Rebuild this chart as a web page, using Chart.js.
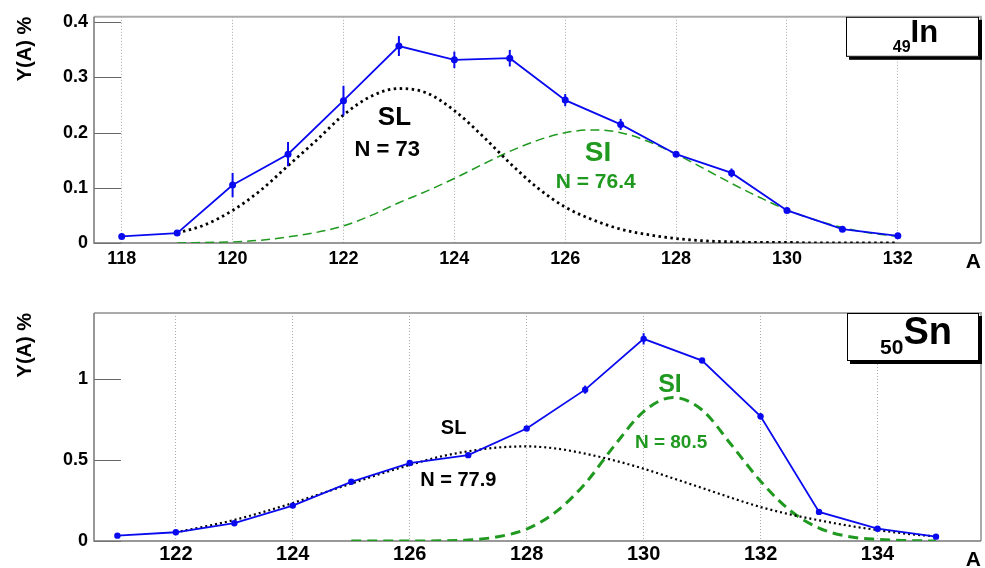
<!DOCTYPE html>
<html>
<head>
<meta charset="utf-8">
<script src="https://cdn.jsdelivr.net/npm/chart.js@4.4.0/dist/chart.umd.min.js"></script>
<style>
    html, body { margin: 0; padding: 0; background: #fff; }
    #wrap { position: relative; width: 985px; height: 568px; }
    .panel { position: absolute; left: 0; width: 985px; height: 284px; }
</style>
</head>
<body>
<div id="wrap">
    <div class="panel" style="top:0"><canvas id="in-chart" width="985" height="284"></canvas></div>
    <div class="panel" style="top:284px"><canvas id="sn-chart" width="985" height="284"></canvas></div>
</div>
<script>
// 49In 数据
const inMass = [118, 119, 120, 121, 122, 123, 124, 125, 126, 127, 128, 129, 130, 131, 132];
const inYield = [0.012, 0.018, 0.105, 0.161, 0.258, 0.357, 0.332, 0.335, 0.259, 0.215, 0.161, 0.127, 0.059, 0.025, 0.013];
const inErr = [0.002, 0.003, 0.022, 0.022, 0.027, 0.018, 0.015, 0.015, 0.011, 0.01, 0.004, 0.008, 0.003, 0.002, 0.002];
const inTicks = [118, 120, 122, 124, 126, 128, 130, 132];

const inCurveMass = [119, 119.5, 120, 120.5, 121, 121.5, 122, 122.5, 123, 123.5, 124, 124.5, 125, 125.5,
    126, 126.5, 127, 127.5, 128, 128.5, 129, 129.5, 130, 130.5, 131, 131.5, 132];
const inSL = [0.018, 0.033, 0.059, 0.095, 0.14, 0.185, 0.232, 0.266, 0.28, 0.272, 0.24, 0.195, 0.145, 0.1,
    0.065, 0.042, 0.025, 0.015, 0.008, 0.004, 0.002, 0.001, 0.001, 0, 0, 0, 0];
const inSI = [0, 0.001, 0.002, 0.005, 0.011, 0.019, 0.031, 0.05, 0.073, 0.094, 0.117, 0.142, 0.166, 0.186,
    0.2, 0.205, 0.2, 0.184, 0.161, 0.135, 0.108, 0.083, 0.06, 0.042, 0.028, 0.018, 0.012];

// 50Sn 数据
const snMass = [121, 122, 123, 124, 125, 126, 127, 128, 129, 130, 131, 132, 133, 134, 135];
const snYield = [0.033, 0.054, 0.11, 0.219, 0.366, 0.482, 0.531, 0.696, 0.936, 1.25, 1.116, 0.771, 0.18, 0.076, 0.027];
const snErr = [0.004, 0.005, 0.006, 0.008, 0.01, 0.012, 0.012, 0.015, 0.025, 0.035, 0.012, 0.02, 0.008, 0.005, 0.004];
const snTicks = [122, 124, 126, 128, 130, 132, 134];

const snSLMass = [122, 122.5, 123, 123.5, 124, 124.5, 125, 125.5, 126, 126.5, 127, 127.5, 128, 128.5,
    129, 129.5, 130, 130.5, 131, 131.5, 132, 132.5, 133, 133.5, 134, 134.5, 135];
const snSL = [0.054, 0.09, 0.13, 0.18, 0.235, 0.295, 0.355, 0.415, 0.47, 0.52, 0.555, 0.578, 0.585, 0.572,
    0.54, 0.498, 0.447, 0.388, 0.328, 0.267, 0.21, 0.165, 0.128, 0.095, 0.068, 0.045, 0.028];
const snSIMass = [125, 125.5, 126, 126.5, 127, 127.5, 128, 128.5, 129, 129.5, 130, 130.5, 131, 131.5,
    132, 132.5, 133, 133.5, 134, 134.5, 135];
const snSI = [0, 0, 0, 0.001, 0.006, 0.026, 0.074, 0.18, 0.355, 0.59, 0.8, 0.888, 0.81, 0.595,
    0.37, 0.19, 0.08, 0.028, 0.01, 0.003, 0];

const FONT = '"Liberation Sans", Arial, Helvetica, sans-serif';
const BLUE = '#0a0af0';
const GREEN = '#1f991f';

function toPoints(xs, ys) {
    return xs.map((x, i) => ({ x: x, y: ys[i] }));
}

// 边框和内侧刻度
const framePlugin = {
    id: 'frame',
    beforeDatasetsDraw(chart) {
        const { ctx, chartArea: a, scales } = chart;
        ctx.save();
        ctx.strokeStyle = '#666';
        ctx.lineWidth = 1;
        scales.y.ticks.forEach(t => {
            const py = Math.round(scales.y.getPixelForValue(t.value)) + 0.5;
            ctx.beginPath();
            ctx.moveTo(a.left, py);
            ctx.lineTo(a.left + 27, py);
            ctx.stroke();
        });
        ctx.strokeStyle = '#aaa';
        ctx.lineWidth = 2;
        ctx.beginPath();
        ctx.moveTo(a.left, a.top);
        ctx.lineTo(a.right, a.top);
        ctx.lineTo(a.right, a.bottom);
        ctx.stroke();
        ctx.strokeStyle = '#777';
        ctx.lineWidth = 1.5;
        ctx.beginPath();
        ctx.moveTo(a.left, a.top);
        ctx.lineTo(a.left, a.bottom);
        ctx.lineTo(a.right, a.bottom);
        ctx.stroke();
        ctx.restore();
    }
};

function errorBars(errs) {
    return {
        id: 'errorBars',
        afterDatasetsDraw(chart) {
            const { ctx, scales: { x, y } } = chart;
            const pts = chart.data.datasets[0].data;
            ctx.save();
            ctx.strokeStyle = BLUE;
            ctx.lineWidth = 2;
            errs.forEach((e, i) => {
                const px = x.getPixelForValue(pts[i].x);
                ctx.beginPath();
                ctx.moveTo(px, y.getPixelForValue(pts[i].y - e));
                ctx.lineTo(px, y.getPixelForValue(pts[i].y + e));
                ctx.stroke();
            });
            ctx.restore();
        }
    };
}

function notes(items) {
    return {
        id: 'notes',
        afterDatasetsDraw(chart) {
            const { ctx, scales: { x, y } } = chart;
            ctx.save();
            ctx.textAlign = 'center';
            ctx.textBaseline = 'alphabetic';
            items.forEach(n => {
                ctx.font = 'bold ' + n.size + 'px ' + FONT;
                ctx.fillStyle = n.color;
                ctx.fillText(n.text, x.getPixelForValue(n.at[0]), y.getPixelForValue(n.at[1]));
            });
            ctx.restore();
        }
    };
}

// 元素标签框
function elementBox(sub, sym, b) {
    return {
        id: 'elementBox',
        afterDraw(chart) {
            const { ctx, chartArea: a } = chart;
            const left = a.right - b.w - 2, top = a.top;
            ctx.save();
            ctx.fillStyle = '#000';
            ctx.fillRect(left + 3, top + 3, b.w, b.h);
            ctx.fillStyle = '#fff';
            ctx.fillRect(left, top, b.w, b.h);
            ctx.strokeStyle = '#000';
            ctx.lineWidth = 1;
            ctx.strokeRect(left + 0.5, top + 0.5, b.w - 1, b.h - 1);
            ctx.fillStyle = '#000';
            ctx.textBaseline = 'alphabetic';
            ctx.font = 'bold ' + b.subSize + 'px ' + FONT;
            const ws = ctx.measureText(sub).width;
            ctx.font = 'bold ' + b.symSize + 'px ' + FONT;
            const wm = ctx.measureText(sym).width;
            let x0 = left + b.w / 2 - (ws + wm) / 2 + 3;
            ctx.font = 'bold ' + b.subSize + 'px ' + FONT;
            ctx.fillText(sub, x0, top + b.subBase);
            ctx.font = 'bold ' + b.symSize + 'px ' + FONT;
            ctx.fillText(sym, x0 + ws, top + b.symBase);
            ctx.restore();
        }
    };
}

function makeChart(id, p) {
    const ctx = document.getElementById(id).getContext('2d');
    return new Chart(ctx, {
        type: 'line',
        data: {
            datasets: [{
                data: toPoints(p.mass, p.yield),
                borderColor: BLUE,
                backgroundColor: BLUE,
                borderWidth: 1.8,
                pointRadius: p.pointRadius,
                pointBorderWidth: 0,
                tension: 0
            }, {
                data: toPoints(p.slMass, p.sl),
                borderColor: '#000',
                borderWidth: p.slWidth,
                borderDash: p.slDash,
                pointRadius: 0,
                cubicInterpolationMode: 'monotone'
            }, {
                data: toPoints(p.siMass, p.si),
                borderColor: GREEN,
                borderWidth: p.siWidth,
                borderDash: p.siDash,
                pointRadius: 0,
                cubicInterpolationMode: 'monotone'
            }]
        },
        options: {
            responsive: false,
            animation: false,
            events: [],
            layout: { padding: { top: p.padTop, right: 2, left: 0, bottom: 0 } },
            plugins: { legend: { display: false }, tooltip: { enabled: false } },
            scales: {
                x: {
                    type: 'linear',
                    min: p.xMin,
                    max: p.xMax,
                    afterBuildTicks: s => { s.ticks = p.ticks.map(v => ({ value: v })); },
                    afterFit: s => {
                        s.height = p.xHeight;
                        s.paddingLeft = 0;
                        s.paddingRight = 0;
                    },
                    grid: { color: '#aaa', lineWidth: 1, drawTicks: false, borderDash: [1, 2] },
                    border: { display: false, dash: [1, 2] },
                    ticks: {
                        autoSkip: false,
                        maxRotation: 0,
                        padding: p.xTickPad,
                        color: '#000',
                        font: { family: FONT, size: p.xTickSize, weight: 'bold' }
                    },
                    title: {
                        display: true,
                        text: 'A',
                        align: 'end',
                        color: '#000',
                        font: { family: FONT, size: 21, weight: 'bold', lineHeight: 1 },
                        padding: { top: 0, bottom: p.aPad }
                    }
                },
                y: {
                    min: 0,
                    max: p.yMax,
                    afterFit: s => { s.width = 94; },
                    grid: { display: false, drawTicks: false },
                    border: { display: false },
                    ticks: {
                        stepSize: p.yStep,
                        includeBounds: false,
                        padding: 6,
                        color: '#000',
                        font: { family: FONT, size: 18, weight: 'bold' },
                        callback: v => String(Math.round(v * 10) / 10)
                    },
                    title: {
                        display: true,
                        text: 'Y(A) %',
                        align: 'end',
                        color: '#000',
                        font: { family: FONT, size: 20, weight: 'bold', lineHeight: 1.2 },
                        padding: { top: 13, bottom: 0 }
                    }
                }
            }
        },
        plugins: [framePlugin, errorBars(p.err), notes(p.notes), elementBox(p.sub, p.sym, p.box)]
    });
}

makeChart('in-chart', {
    mass: inMass, yield: inYield, err: inErr, ticks: inTicks,
    slMass: inCurveMass, sl: inSL, siMass: inCurveMass, si: inSI,
    xMin: 117.5, xMax: 133.5, yMax: 0.41, yStep: 0.1,
    padTop: 15, xHeight: 41, xTickPad: 5, xTickSize: 18, aPad: 11,
    pointRadius: 3.5,
    slWidth: 2.8, slDash: [2.5, 3.5], siWidth: 1.5, siDash: [9, 5],
    notes: [
        { text: 'SL', at: [122.92, 0.214], size: 26, color: '#000' },
        { text: 'N = 73', at: [122.79, 0.157], size: 22, color: '#000' },
        { text: 'SI', at: [126.59, 0.149], size: 28, color: GREEN },
        { text: 'N = 76.4', at: [126.55, 0.1], size: 21, color: GREEN }
    ],
    sub: '49', sym: 'In',
    box: { w: 133, h: 40, subSize: 16, symSize: 31, subBase: 35, symBase: 25 }
});

makeChart('sn-chart', {
    mass: snMass, yield: snYield, err: snErr, ticks: snTicks,
    slMass: snSLMass, sl: snSL, siMass: snSIMass, si: snSI,
    xMin: 120.6, xMax: 135.77, yMax: 1.41, yStep: 0.5,
    padTop: 29, xHeight: 27, xTickPad: 1, xTickSize: 20, aPad: -3,
    pointRadius: 3.2,
    slWidth: 2.2, slDash: [2, 3], siWidth: 3, siDash: [10, 6],
    notes: [
        { text: 'SL', at: [126.75, 0.662], size: 20, color: '#000' },
        { text: 'N = 77.9', at: [126.83, 0.343], size: 20, color: '#000' },
        { text: 'SI', at: [130.45, 0.92], size: 25, color: GREEN },
        { text: 'N = 80.5', at: [130.47, 0.575], size: 19, color: GREEN }
    ],
    sub: '50', sym: 'Sn',
    box: { w: 132, h: 48, subSize: 21, symSize: 38, subBase: 41, symBase: 31 }
});
</script>
</body>
</html>
